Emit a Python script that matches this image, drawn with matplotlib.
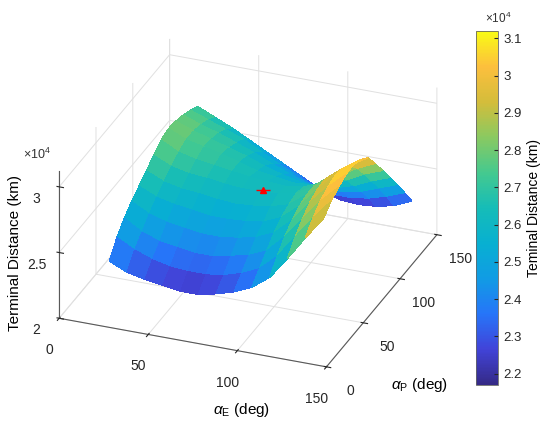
import matplotlib
matplotlib.use("Agg")
import matplotlib.pyplot as plt
import numpy as np
from matplotlib.colors import LinearSegmentedColormap, Normalize

plt.rcParams['font.family'] = ['Liberation Sans', 'DejaVu Sans']
plt.rcParams['mathtext.fontset'] = 'custom'
plt.rcParams['mathtext.rm'] = 'Liberation Sans'
plt.rcParams['mathtext.it'] = 'Liberation Sans:italic'

# grid of angles (deg)
alpha_E = [20, 30, 40, 50, 60, 70, 80, 90, 100, 110, 120, 130, 140]
alpha_P = [20, 30, 40, 50, 60, 70, 80, 90, 100, 110, 120, 130, 140]

# terminal distance (x1e4 km), one row per alpha_P value, columns follow alpha_E
dist_p20 = [2.35, 2.29, 2.26, 2.24, 2.22, 2.22, 2.25, 2.29, 2.35, 2.45, 2.62, 2.80, 2.97]
dist_p30 = [2.46, 2.39, 2.34, 2.31, 2.30, 2.30, 2.32, 2.36, 2.42, 2.54, 2.71, 2.88, 3.03]
dist_p40 = [2.54, 2.46, 2.41, 2.39, 2.37, 2.37, 2.40, 2.43, 2.49, 2.62, 2.78, 2.94, 3.07]
dist_p50 = [2.60, 2.53, 2.49, 2.47, 2.45, 2.45, 2.47, 2.50, 2.56, 2.68, 2.84, 2.98, 3.10]
dist_p60 = [2.65, 2.59, 2.56, 2.54, 2.52, 2.52, 2.53, 2.55, 2.61, 2.72, 2.87, 3.00, 3.11]
dist_p70 = [2.70, 2.64, 2.61, 2.60, 2.58, 2.57, 2.58, 2.60, 2.64, 2.74, 2.88, 2.99, 3.08]
dist_p80 = [2.75, 2.69, 2.66, 2.65, 2.63, 2.62, 2.62, 2.63, 2.66, 2.74, 2.85, 2.95, 3.03]
dist_p90 = [2.80, 2.73, 2.70, 2.68, 2.66, 2.64, 2.63, 2.62, 2.64, 2.70, 2.78, 2.86, 2.92]
dist_p100 = [2.82, 2.76, 2.73, 2.70, 2.66, 2.62, 2.60, 2.58, 2.59, 2.62, 2.68, 2.75, 2.80]
dist_p110 = [2.81, 2.76, 2.72, 2.68, 2.64, 2.59, 2.55, 2.52, 2.51, 2.53, 2.57, 2.63, 2.68]
dist_p120 = [2.79, 2.74, 2.70, 2.65, 2.60, 2.54, 2.49, 2.44, 2.42, 2.43, 2.46, 2.51, 2.56]
dist_p130 = [2.76, 2.71, 2.66, 2.61, 2.54, 2.47, 2.41, 2.35, 2.32, 2.32, 2.34, 2.38, 2.43]
dist_p140 = [2.72, 2.66, 2.60, 2.53, 2.46, 2.39, 2.32, 2.25, 2.21, 2.20, 2.21, 2.24, 2.30]

# saddle point marker
saddle_E = 80
saddle_P = 83
saddle_D = 2.62

cbar_ticks = [2.2, 2.3, 2.4, 2.5, 2.6, 2.7, 2.8, 2.9, 3.0, 3.1]
cbar_labels = ['2.2', '2.3', '2.4', '2.5', '2.6', '2.7', '2.8', '2.9', '3', '3.1']

# parula-like colormap
parula = LinearSegmentedColormap.from_list('parula', [
    (0.00, (0.208, 0.166, 0.529)),
    (0.10, (0.255, 0.265, 0.850)),
    (0.20, (0.150, 0.460, 0.975)),
    (0.30, (0.065, 0.610, 0.895)),
    (0.40, (0.030, 0.690, 0.820)),
    (0.50, (0.085, 0.740, 0.720)),
    (0.60, (0.270, 0.790, 0.560)),
    (0.70, (0.540, 0.790, 0.380)),
    (0.80, (0.830, 0.740, 0.230)),
    (0.90, (0.990, 0.750, 0.240)),
    (1.00, (0.977, 0.984, 0.081)),
])
norm = Normalize(vmin=2.17, vmax=3.12)

E, P = np.meshgrid(alpha_E, alpha_P)
D = np.array([dist_p20, dist_p30, dist_p40, dist_p50, dist_p60, dist_p70, dist_p80,
              dist_p90, dist_p100, dist_p110, dist_p120, dist_p130, dist_p140])

fig = plt.figure(figsize=(5.5, 4.29), dpi=100)
ax = fig.add_axes([-0.035, -0.007, 0.95, 1.04], projection='3d', computed_zorder=False)
ax.set_proj_type('ortho')
ax.view_init(elev=27.8, azim=-68.7)
ax.set_box_aspect((1, 1.06, 0.58), zoom=0.979)

surf = ax.plot_surface(E, P, D, cmap=parula, norm=norm, rstride=1, cstride=1,
                       linewidth=0, antialiased=False, shade=False)
surf.set_edgecolor('face')
surf.set_linewidth(0.3)

ax.plot([saddle_E], [saddle_P], [saddle_D], marker='_', color='red', ms=10, mew=1, zorder=10)
ax.plot([saddle_E], [saddle_P], [saddle_D], marker='^', color='red', ms=5, zorder=11)

ax.set_xlim(0, 150)
ax.set_ylim(0, 150)
ax.set_zlim(2, 3.12)
ax.set_xticks([0, 50, 100, 150])
ax.set_yticks([0, 50, 100, 150])
ax.set_zticks([2, 2.5, 3])
ax.set_zticklabels(['2', '2.5', '3'])
ax.zaxis._axinfo['juggled'] = (1, 2, 0)

for axis in (ax.xaxis, ax.yaxis, ax.zaxis):
    axis.set_pane_color((1, 1, 1, 0))
    axis.pane.set_edgecolor((0.88, 0.88, 0.88))
    axis._axinfo['grid']['color'] = (0.88, 0.88, 0.88, 1)
    axis._axinfo['grid']['linewidth'] = 0.7
    axis.line.set_color('0.35')
    axis.line.set_linewidth(0.8)
ax.tick_params(labelsize=10, colors='0.15', pad=2)
ax.xaxis.set_tick_params(pad=7)
ax.yaxis.set_tick_params(pad=7)

fig.text(0.027, 0.41, 'Terminal Distance (km)', rotation=90, ha='center', va='center', fontsize=11)
fig.text(0.067, 0.639, r'$\times10^4$', fontsize=9, ha='center', va='center', color='0.2')
fig.text(0.44, 0.045, r'$\alpha_{\mathrm{E}}$ (deg)', fontsize=11, ha='center', va='center')
fig.text(0.762, 0.103, r'$\alpha_{\mathrm{P}}$ (deg)', fontsize=11, ha='center', va='center')

cax = fig.add_axes([0.866, 0.103, 0.040, 0.825])
cb = fig.colorbar(plt.cm.ScalarMappable(norm=norm, cmap=parula), cax=cax)
cb.set_ticks(cbar_ticks)
cb.set_ticklabels(cbar_labels)
cb.ax.tick_params(direction='in', labelsize=9.5, length=3, colors='0.15')
cb.outline.set_edgecolor('0.4')
cb.outline.set_linewidth(0.6)
cb.set_label('Teminal Distance (km)', fontsize=10)
fig.text(0.905, 0.958, r'$\times10^4$', fontsize=8.5, ha='center', va='center', color='0.2')

fig.savefig('out.png', dpi=100)
